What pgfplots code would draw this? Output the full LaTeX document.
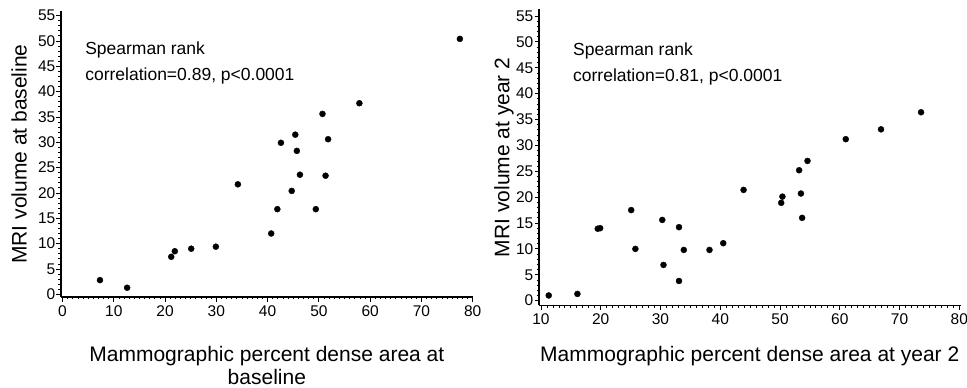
\documentclass[border=0pt]{standalone}
\usepackage{fontspec}
\setmainfont{Liberation Sans}
\usepackage{pgfplots}
\pgfplotsset{compat=1.18}

\pgfplotstableread{
x y
7.3 2.8
12.6 1.3
21.2 7.4
21.9 8.5
25.1 9.0
29.9 9.4
34.2 21.7
40.7 12.0
41.9 16.8
49.4 16.8
44.7 20.4
46.3 23.6
51.3 23.4
45.7 28.3
42.6 29.9
51.8 30.6
45.4 31.5
50.7 35.6
57.9 37.7
77.5 50.4
}\baseline

\pgfplotstableread{
x y
11.3 1.0
16.1 1.3
19.5 13.9
19.9 14.0
25.1 17.5
25.8 10.0
30.3 15.6
30.5 6.9
33.1 14.2
33.1 3.8
33.9 9.8
38.2 9.8
40.5 11.1
43.9 21.4
50.2 18.9
50.4 20.1
53.5 20.7
53.7 16.0
53.2 25.2
54.6 27.0
61.0 31.2
66.9 33.1
73.6 36.4
}\yeartwo

\pgfplotsset{
  myax/.style={
    scale only axis,
    anchor=south west,
    axis x line*=bottom, axis y line*=left,
    tick align=outside,
    major tick length=4.5pt, minor tick length=2.5pt,
    minor x tick num=9, minor y tick num=4,
    every tick/.style={black, line width=0.8pt},
    axis line style={line width=1.2pt, black},
    tick label style={font=\fontsize{15.5}{18}\selectfont},
    /pgf/number format/assume math mode=true,
    ytick={0,5,...,55},
    yticklabel style={inner sep=1pt},
    xticklabel style={inner sep=4pt},
    clip=false,
  },
}

\begin{document}
\begin{tikzpicture}[x=1pt,y=1pt]
\path[use as bounding box] (0,0) rectangle (967,388);

\begin{axis}[myax,
  at={(61pt,91pt)}, width=411.7pt, height=286pt,
  xmin=-0.3, xmax=80, ymin=-0.53, ymax=55.9,
  xtick={0,10,...,80},
  every axis x label/.style={at={(axis description cs:0.5,-0.1727)}, anchor=north, inner sep=0pt, align=center, font=\fontsize{21}{22.5}\selectfont},
  every axis y label/.style={at={(axis description cs:-0.0833,0.5)}, rotate=90, anchor=base, inner sep=0pt, font=\fontsize{21}{22.5}\selectfont},
  xlabel={Mammographic percent dense area at\\baseline},
  ylabel={MRI volume at baseline},
]
\addplot[only marks, mark=*, mark size=3pt, black] table[x=x,y=y] {\baseline};
\node[anchor=north west, inner sep=0pt, align=left, font=\fontsize{17.5}{26}\selectfont] at (axis cs:4.4,49.8) {Spearman rank\\correlation=0.89, p<0.0001};
\end{axis}

\begin{axis}[myax,
  at={(539pt,82.7pt)}, width=421.5pt, height=296pt,
  xmin=9.67, xmax=80.2, ymin=-0.9, ymax=56.3,
  xtick={10,20,...,80},
  every axis x label/.style={at={(axis description cs:0.5,-0.1365)}, anchor=north, inner sep=0pt, align=center, font=\fontsize{21}{22.5}\selectfont},
  every axis y label/.style={at={(axis description cs:-0.0705,0.5)}, rotate=90, anchor=base, inner sep=0pt, font=\fontsize{21}{22.5}\selectfont},
  xlabel={Mammographic percent dense area at year 2},
  ylabel={MRI volume at year 2},
]
\addplot[only marks, mark=*, mark size=3pt, black] table[x=x,y=y] {\yeartwo};
\node[anchor=north west, inner sep=0pt, align=left, font=\fontsize{17.5}{26}\selectfont] at (axis cs:15.35,49.8) {Spearman rank\\correlation=0.81, p<0.0001};
\end{axis}
\end{tikzpicture}
\end{document}
